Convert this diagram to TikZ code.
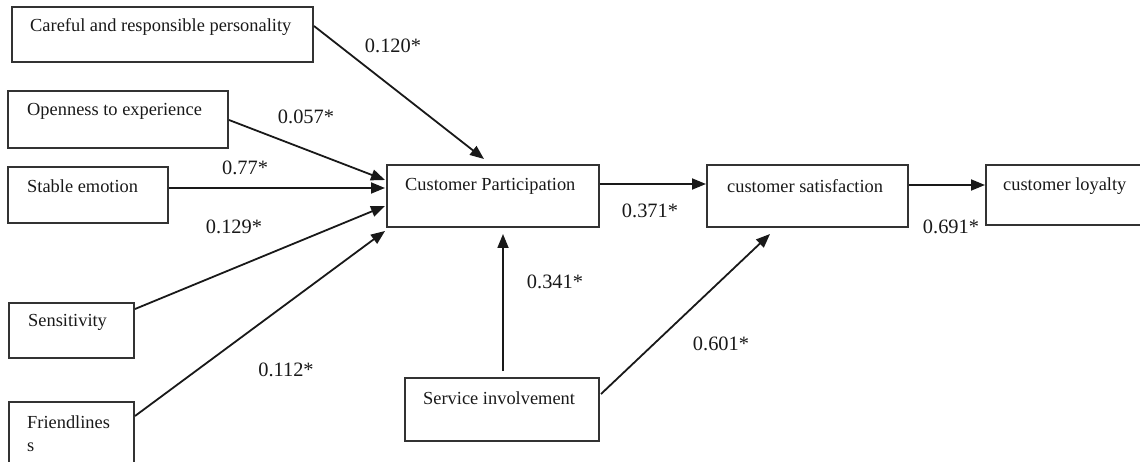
\documentclass[tikz,border=0pt]{standalone}
\usepackage{fontspec}
\setmainfont{Liberation Serif}
\usetikzlibrary{calc,arrows.meta}
\begin{document}
\begin{tikzpicture}[x=1pt,y=-1pt,
  box/.style={draw=black!80,line width=2pt,inner sep=0pt},
  boxtext/.style={anchor=west,inner sep=0pt,text=black!90,font=\fontsize{18.4}{22}\selectfont},
  coef/.style={inner sep=0pt,text=black!90,font=\fontsize{20.4}{24}\selectfont},
  path/.style={line width=1.8pt,draw=black!90,-{Triangle[length=14pt,width=11pt]}}]
\useasboundingbox (0,0) rectangle (1140,462);
\clip (0,0) rectangle (1140,462);

% construct boxes
\node[box,minimum width=301pt,minimum height=55pt] (care)   at (162.5,34.5) {};
\node[box,minimum width=220pt,minimum height=57pt] (open)   at (118,119.5) {};
\node[box,minimum width=160pt,minimum height=56pt] (stable) at (88,195) {};
\node[box,minimum width=125pt,minimum height=55pt] (sens)   at (71.5,330.5) {};
\node[box,minimum width=125pt,minimum height=70pt] (friend) at (71.5,437) {};
\node[box,minimum width=212pt,minimum height=62pt] (cp)     at (493,196) {};
\node[box,minimum width=201pt,minimum height=62pt] (sat)    at (807.5,196) {};
\node[box,minimum width=164pt,minimum height=60pt] (loy)    at (1068,195) {};
\node[box,minimum width=194pt,minimum height=63pt] (serv)   at (502,409.5) {};

% box captions
\node[boxtext] (careT)   at (30,27)   {Careful and responsible personality};
\node[boxtext] (openT)   at (27,111)  {Openness to experience};
\node[boxtext] (stableT) at (27,186)  {Stable emotion};
\node[boxtext] (sensT)   at (28,322)  {Sensitivity};
\node[boxtext] (friendT) at (27,422)  {Friendlines};
\node[boxtext] (friendS) at (27,447)  {s};
\node[boxtext] (cpT)     at (405,186) {Customer Participation};
\node[boxtext] (satT)    at (727,186) {customer satisfaction};
\node[boxtext] (loyT)    at (1003,186){customer loyalty};
\node[boxtext] (servT)   at (423,398) {Service involvement};

% paths
\draw[path] ($(care.north east)+(0,20)$) -- ($(cp.north west)+(98,-5)$);
\draw[path] ($(open.north east)+(0,30)$) -- ($(cp.north west)+(-1,16)$);
\draw[path] ($(stable.north east)+(0,22)$) -- ($(cp.north west)+(-1,24)$);
\draw[path] ($(sens.north east)+(0,7)$) -- ($(cp.north west)+(-1,42)$);
\draw[path] ($(friend.north east)+(0,15)$) -- ($(cp.south west)+(-1,3)$);
\draw[path] ($(serv.north)+(1,-6)$) -- ($(cp.south)+(10,6)$);
\draw[path] ($(serv.north east)+(1,17)$) -- ($(sat.south west)+(64,6)$);
\draw[path] ($(cp.north east)+(0,20)$) -- ($(sat.north west)+(0,20)$);
\draw[path] ($(sat.north east)+(0,21)$) -- ($(loy.north west)+(0,21)$);

% path coefficients
\node[coef] (c1) at (393,46)  {0.120*};
\node[coef] (c2) at (306,117) {0.057*};
\node[coef] (c3) at (245,168) {0.77*};
\node[coef] (c4) at (234,227) {0.129*};
\node[coef] (c5) at (286,370) {0.112*};
\node[coef] (c6) at (650,211) {0.371*};
\node[coef] (c7) at (951,227) {0.691*};
\node[coef] (c8) at (555,282) {0.341*};
\node[coef] (c9) at (721,344) {0.601*};
\end{tikzpicture}
\end{document}
